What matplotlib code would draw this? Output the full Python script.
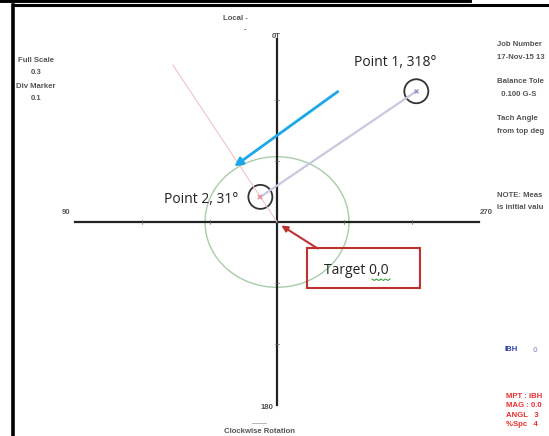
import numpy as np
import matplotlib
matplotlib.use('Agg')
import matplotlib.pyplot as plt
from matplotlib.patches import Ellipse, Rectangle, FancyArrowPatch

# balance readings (magnitude in G-S, angle in degrees, 0 at top, 90 at left)
full_scale = 0.3
div_marker = 0.1
tolerance = 0.107
point_names = ["Point 1, 318\u00b0", "Point 2, 31\u00b0"]
point_mag = [0.298, 0.048]
point_ang = [316, 31]
axis_labels = ["0T", "90", "180", "270"]

W, H = 549, 436
cx, cy = 277, 222        # plot centre in pixels
sx, sy = 673, 610        # pixels per G-S unit


def polar_xy(r, a):
    a = np.radians(a)
    return -r * np.sin(a), r * np.cos(a)


def fx(px):
    return px / W


def fy(py):
    return 1 - py / H


fig = plt.figure(figsize=(W / 100, H / 100), dpi=100)
ax = fig.add_axes([0, 0, 1, 1])
ax.set_xlim(-cx / sx, (W - cx) / sx)
ax.set_ylim(-(H - cy) / sy, cy / sy)
ax.axis('off')

# frame of the screenshot
fig.add_artist(plt.Line2D([0, fx(470)], [fy(1), fy(1)], color='black', lw=2.8))
fig.add_artist(plt.Line2D([fx(13), 1], [fy(5.5), fy(5.5)], color='black', lw=2.2))
fig.add_artist(plt.Line2D([fx(13), fx(13)], [fy(5), 0], color='black', lw=2.6))

# axes cross
ax.plot([-full_scale, full_scale], [0, 0], color='#222222', lw=1.6)
ax.plot([0, 0], [-full_scale, full_scale], color='#222222', lw=1.6)
for k in range(1, 3):
    d = k * div_marker
    for x0, y0, x1_, y1_ in [(d, -0.003, d, 0.003), (-d, -0.003, -d, 0.003),
                             (-0.003, d, 0.003, d), (-0.003, -d, 0.003, -d)]:
        ax.plot([x0, x1_], [y0, y1_], color='#666666', lw=0.5)

# tolerance circle
ax.add_patch(Ellipse((0, 0), 2 * tolerance, 2 * tolerance, fill=False,
                     ec='#a8cca8', lw=1.0))

x1, y1 = polar_xy(point_mag[0], point_ang[0])
x2, y2 = polar_xy(point_mag[1], point_ang[1])
xe, ye = polar_xy(full_scale, point_ang[1])

# phase line through point 2 and vector between the points
ax.plot([0, xe], [0, ye], color='#f4c0c8', lw=0.8)
ax.plot([x2, x1], [y2, y1], color='#c8c8e0', lw=1.6)
ax.plot(x1, y1, 'x', color='#9898cc', ms=3, mew=1)
ax.plot(x2, y2, 'x', color='#e890a0', ms=3, mew=1.2)
for x, y in [(x1, y1), (x2, y2)]:
    ax.add_patch(Ellipse((x, y), 24 / sx, 24 / sy, fill=False, ec='#333333', lw=1.3))

small = dict(fontsize=5.6, color='#555555', fontweight='bold', family='Liberation Sans')
fig.text(fx(235), fy(18), "Local -", ha='center', va='center', **small)
fig.text(fx(245), fy(30), "-", ha='center', va='center', **small)
fig.text(fx(276), fy(37), axis_labels[0], ha='center', va='center', **small)
fig.text(fx(66), fy(212), axis_labels[1], ha='center', va='center', **small)
fig.text(fx(267), fy(407), axis_labels[2], ha='center', va='center', **small)
fig.text(fx(486), fy(212), axis_labels[3], ha='center', va='center', **small)
fig.text(fx(260), fy(431), "Clockwise Rotation", ha='center', va='center', **small)
fig.add_artist(plt.Line2D([fx(252), fx(266)], [fy(423), fy(423)], color='#999999', lw=0.5))

fig.text(fx(36), fy(60), "Full Scale", ha='center', va='center', **small)
fig.text(fx(36), fy(72), str(full_scale), ha='center', va='center', **small)
fig.text(fx(36), fy(87), "Div Marker", ha='center', va='center', **small)
fig.text(fx(36), fy(99), str(div_marker), ha='center', va='center', **small)

right = ["Job Number", "17-Nov-15 13", "", "Balance Tole", "  0.100 G-S", "",
         "Tach Angle", "from top deg"]
for i, s in enumerate(right):
    fig.text(fx(497), fy(45 + 12.3 * i), s, ha='left', va='center', **small)
fig.text(fx(497), fy(195), "NOTE: Meas", ha='left', va='center', **small)
fig.text(fx(497), fy(207), "is initial valu", ha='left', va='center', **small)

fig.text(fx(505), fy(349), "IBH", ha='left', va='center', fontsize=5.6,
         color='#3040a0', fontweight='bold', family='Liberation Sans')
fig.text(fx(535), fy(349), "o", ha='center', va='center', fontsize=5.6, color='#8890c0')
red = ["MPT : IBH", "MAG : 0.0", "ANGL   3", "%Spc   4"]
for i, s in enumerate(red):
    fig.text(fx(506), fy(396 + 9.5 * i), s, ha='left', va='center', fontsize=5.6,
             color='#e83030', fontweight='bold', family='Liberation Sans')

# callouts
big = dict(fontsize=10, color='#222222', family='Open Sans')
fig.text(fx(395), fy(63), point_names[0], ha='center', va='center', **big)
fig.text(fx(201), fy(199), point_names[1], ha='center', va='center', **big)

fig.add_artist(FancyArrowPatch((fx(340), fy(90)), (fx(232), fy(168)),
                               transform=fig.transFigure, arrowstyle='-|>',
                               mutation_scale=12, color='#1ba8e8', lw=2))
fig.add_artist(Rectangle((fx(307), fy(288)), 113 / W, 40 / H, transform=fig.transFigure,
                         fill=False, ec='#c03030', lw=1.5))
fig.text(fx(356), fy(270), "Target 0,0", ha='center', va='center', **big)
# spell-check squiggle under "0,0"
sq_x = np.linspace(fx(372), fx(390), 9)
sq_y = fy(279) + np.where(np.arange(9) % 2 == 0, 0, -1.5 / H)
fig.add_artist(plt.Line2D(sq_x, sq_y, color='#40a040', lw=0.8))
fig.add_artist(FancyArrowPatch((fx(320), fy(250)), (fx(279), fy(224)),
                               transform=fig.transFigure, arrowstyle='-|>',
                               mutation_scale=9, color='#c03030', lw=1.5))

fig.savefig('out.png', dpi=100)
